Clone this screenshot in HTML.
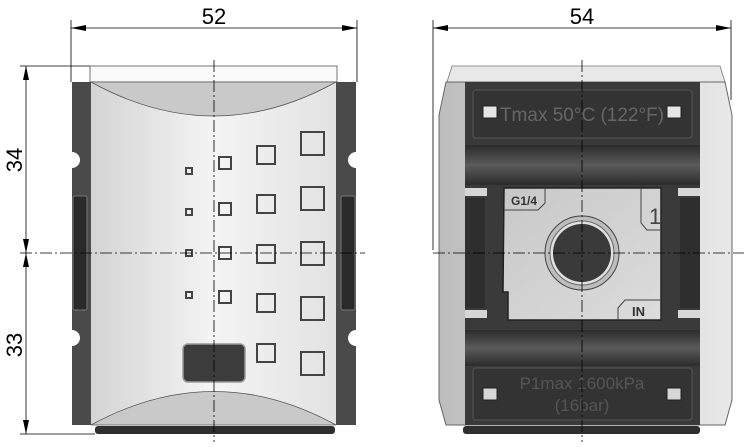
<!DOCTYPE html>
<html><head><style>html,body{margin:0;padding:0;background:#fff}svg{display:block}</style></head>
<body>
<svg width="744" height="448" viewBox="0 0 744 448" xmlns="http://www.w3.org/2000/svg" font-family="Liberation Sans, sans-serif">
<defs>
<linearGradient id="face" x1="0" x2="1" y1="0" y2="0">
<stop offset="0" stop-color="#d4d4d4"/><stop offset="0.5" stop-color="#f4f4f4"/><stop offset="1" stop-color="#e2e2e2"/></linearGradient>
<linearGradient id="cap" x1="0" x2="0" y1="0" y2="1">
<stop offset="0" stop-color="#a8a8a8"/><stop offset="1" stop-color="#e6e6e6"/></linearGradient>
<linearGradient id="rib" x1="0" x2="0" y1="0" y2="1">
<stop offset="0" stop-color="#2c2c2c"/><stop offset="0.5" stop-color="#5a5a5a"/><stop offset="1" stop-color="#2c2c2c"/></linearGradient>
<linearGradient id="side" x1="0" x2="1" y1="0" y2="0">
<stop offset="0" stop-color="#bdbdbd"/><stop offset="1" stop-color="#e8e8e8"/></linearGradient>
<linearGradient id="plate" x1="0" x2="1" y1="0" y2="1">
<stop offset="0" stop-color="#c8c8c8"/><stop offset="1" stop-color="#dcdcdc"/></linearGradient>
</defs>

<!-- ===== LEFT VIEW ===== -->
<g stroke="#000" stroke-width="0.8" fill="none">
<line x1="71" y1="20" x2="71" y2="82"/><line x1="357" y1="20" x2="357" y2="82"/>
<line x1="71" y1="28" x2="357" y2="28"/>
<line x1="20" y1="66" x2="90" y2="66"/><line x1="20" y1="434" x2="95" y2="434"/>
<line x1="26" y1="66" x2="26" y2="434"/>
</g>
<g fill="#000">
<polygon points="71,28 86,25 86,31"/><polygon points="357,28 342,25 342,31"/>
<polygon points="26,66 23,80 29,80"/><polygon points="26,253 23,239 29,239"/>
<polygon points="26,253 23,267 29,267"/><polygon points="26,434 23,420 29,420"/>
</g>
<text x="214" y="24" font-size="22" text-anchor="middle">52</text>
<text transform="translate(22,160) rotate(-90)" font-size="22" text-anchor="middle">34</text>
<text transform="translate(22,345) rotate(-90)" font-size="22" text-anchor="middle">33</text>

<rect x="90" y="66" width="247" height="16" fill="#fafafa" stroke="#555" stroke-width="0.8"/>
<rect x="72" y="82" width="284" height="343" fill="#4a4a4a"/>
<circle cx="72" cy="160" r="8" fill="#fff"/><circle cx="356" cy="160" r="8" fill="#fff"/>
<circle cx="72" cy="338" r="8" fill="#fff"/><circle cx="356" cy="338" r="8" fill="#fff"/>
<rect x="91" y="82" width="245" height="343" fill="url(#face)"/>
<path d="M91,82 Q214,150 336,82 Z" fill="#c9c9c9" stroke="#555" stroke-width="0.8"/>
<path d="M91,425 Q214,358 336,425 Z" fill="#c9c9c9" stroke="#555" stroke-width="0.8"/>
<rect x="73" y="196" width="14" height="114" rx="2" fill="#2a2a2a" stroke="#777"/>
<rect x="341" y="196" width="14" height="114" rx="2" fill="#2a2a2a" stroke="#777"/>
<g fill="none" stroke="#444" stroke-width="2">
<rect x="186" y="168" width="6" height="6"/><rect x="186" y="209" width="6" height="6"/>
<rect x="186" y="250" width="6" height="6"/><rect x="186" y="292" width="6" height="6"/>
<rect x="219" y="157" width="12" height="12"/><rect x="219" y="203" width="12" height="12"/>
<rect x="219" y="247" width="12" height="12"/><rect x="219" y="291" width="12" height="12"/>
<rect x="257" y="146" width="18" height="18"/><rect x="257" y="195" width="18" height="18"/>
<rect x="257" y="245" width="18" height="18"/><rect x="257" y="294" width="18" height="18"/>
<rect x="257" y="344" width="18" height="18"/>
<rect x="301" y="132" width="23" height="23"/><rect x="301" y="187" width="23" height="23"/>
<rect x="301" y="242" width="23" height="23"/><rect x="301" y="297" width="23" height="23"/>
<rect x="301" y="352" width="23" height="23"/>
</g>
<rect x="183" y="344" width="62" height="38" rx="5" fill="#3c3c3c" stroke="#999" stroke-width="1.5"/>
<rect x="95" y="426" width="240" height="8" rx="3" fill="#2e2e2e"/>
<g stroke="#000" stroke-width="0.8" stroke-dasharray="12,3,2,3" fill="none">
<line x1="214" y1="60" x2="214" y2="442"/><line x1="20" y1="253" x2="365" y2="253"/>
</g>

<!-- ===== RIGHT VIEW ===== -->
<g stroke="#000" stroke-width="0.8" fill="none">
<line x1="433" y1="20" x2="433" y2="250"/><line x1="731" y1="20" x2="731" y2="100"/>
<line x1="433" y1="28" x2="731" y2="28"/>
</g>
<g fill="#000"><polygon points="433,28 448,25 448,31"/><polygon points="731,28 716,25 716,31"/></g>
<text x="582" y="24" font-size="22" text-anchor="middle">54</text>

<polygon points="447,82 452,66 720,66 725,82" fill="#e8e8e8" stroke="#777" stroke-width="0.8"/>
<path d="M446,82 L725,82 L732,115 L732,400 L725,425 L446,425 L439,400 L439,115 Z" fill="url(#side)" stroke="#666"/>
<rect x="465" y="82" width="235" height="343" fill="#3a3a3a"/>
<rect x="465" y="145" width="235" height="40" fill="url(#rib)"/>
<rect x="465" y="330" width="235" height="36" fill="url(#rib)"/>
<rect x="473" y="90" width="219" height="48" rx="3" fill="#333" stroke="#555"/>
<rect x="483" y="106" width="14" height="12" fill="#e6e6e6" stroke="#222"/>
<rect x="667" y="106" width="14" height="12" fill="#e6e6e6" stroke="#222"/>
<text x="582" y="121" font-size="19" text-anchor="middle" fill="#666">Tmax 50°C (122°F)</text>
<rect x="473" y="368" width="219" height="52" rx="3" fill="#333" stroke="#555"/>
<rect x="483" y="388" width="14" height="12" fill="#d6d6d6" stroke="#222"/>
<rect x="667" y="388" width="14" height="12" fill="#d6d6d6" stroke="#222"/>
<text x="582" y="389" font-size="17" text-anchor="middle" fill="#555">P1max 1600kPa</text>
<text x="582" y="411" font-size="17" text-anchor="middle" fill="#555">(16bar)</text>
<rect x="465" y="188" width="22" height="8" fill="#d6d6d6"/>
<rect x="678" y="188" width="22" height="8" fill="#d6d6d6"/>
<rect x="465" y="310" width="22" height="8" fill="#d6d6d6"/>
<rect x="678" y="310" width="22" height="8" fill="#d6d6d6"/>
<rect x="465" y="198" width="20" height="110" fill="#2e2e2e"/>
<rect x="680" y="198" width="20" height="110" fill="#2e2e2e"/>
<path d="M504,188 L661,188 L661,320 L508,320 L508,292 L503,292 Z" fill="url(#plate)" stroke="#222" stroke-width="1.5"/>
<path d="M504,210 L538,210 L545,203 L545,188" fill="none" stroke="#444"/>
<path d="M641,188 L641,223 L647,230 L661,230" fill="none" stroke="#444"/>
<path d="M618,320 L618,308 L625,300 L661,300" fill="none" stroke="#444"/>
<text x="511" y="205" font-size="12" font-weight="bold" fill="#333">G1/4</text>
<text x="649" y="224" font-size="22" fill="#444">1</text>
<text x="632" y="316" font-size="13" font-weight="bold" fill="#333">IN</text>
<circle cx="582" cy="253" r="37" fill="#bdbdbd" stroke="#444"/>
<circle cx="582" cy="253" r="32" fill="#e0e0e0" stroke="#666"/>
<circle cx="582" cy="253" r="29" fill="#3a3a3a"/>
<rect x="463" y="426" width="237" height="8" rx="3" fill="#2e2e2e"/>
<g stroke="#000" stroke-width="0.8" stroke-dasharray="12,3,2,3" fill="none">
<line x1="582" y1="60" x2="582" y2="442"/><line x1="433" y1="253" x2="744" y2="253"/>
</g>
</svg>
</body></html>
